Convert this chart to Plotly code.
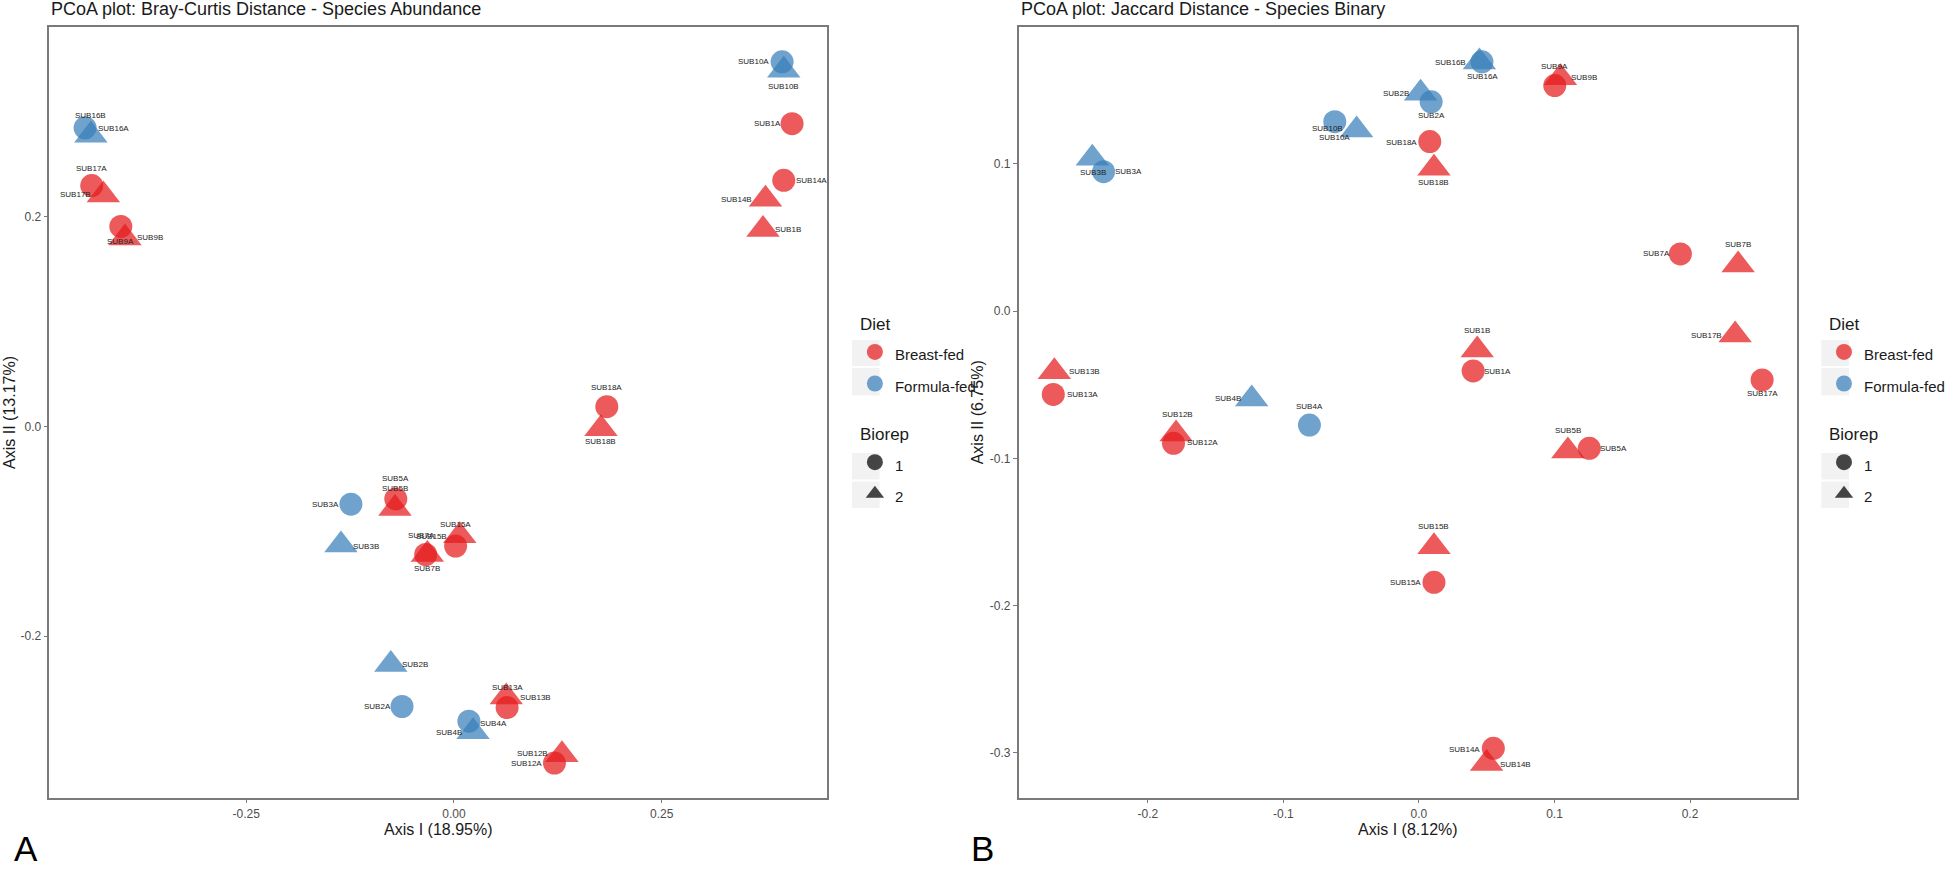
import plotly.graph_objects as go

# ---------------- data ----------------
subjects = ["SUB1", "SUB2", "SUB3", "SUB4", "SUB5", "SUB7", "SUB9", "SUB10",
            "SUB12", "SUB13", "SUB14", "SUB15", "SUB16", "SUB17", "SUB18"]
diet = ["Breast-fed", "Formula-fed", "Formula-fed", "Formula-fed", "Breast-fed",
        "Breast-fed", "Breast-fed", "Formula-fed", "Breast-fed", "Breast-fed",
        "Breast-fed", "Breast-fed", "Formula-fed", "Breast-fed", "Breast-fed"]

# Bray-Curtis PCoA (panel A): biorep 1 (sample "A") and biorep 2 (sample "B")
bc_x_rep1 = [0.407, -0.0625, -0.124, 0.018, -0.070, -0.034, -0.401, 0.395,
             0.121, 0.064, 0.397, 0.002, -0.444, -0.436, 0.184]
bc_y_rep1 = [0.289, -0.267, -0.074, -0.281, -0.069, -0.122, 0.191, 0.348,
             -0.321, -0.268, 0.235, -0.114, 0.285, 0.230, 0.019]
bc_x_rep2 = [0.372, -0.076, -0.136, 0.023, -0.071, -0.032, -0.396, 0.397,
             0.130, 0.063, 0.375, 0.007, -0.437, -0.422, 0.177]
bc_y_rep2 = [0.188, -0.227, -0.113, -0.291, -0.078, -0.122, 0.180, 0.340,
             -0.313, -0.258, 0.217, -0.104, 0.278, 0.221, -0.002]

# Jaccard PCoA (panel B)
jc_x_rep1 = [0.040, 0.009, -0.2327, -0.0808, 0.1257, 0.1929, 0.1002, -0.0621,
             -0.1811, -0.2698, 0.0549, 0.0111, 0.0465, 0.2532, 0.008]
jc_y_rep1 = [-0.0407, 0.142, 0.0946, -0.0774, -0.0932, 0.0387, 0.153, 0.1285,
             -0.0898, -0.0566, -0.2969, -0.1842, 0.1692, -0.0468, 0.115]
jc_x_rep2 = [0.043, 0.0012, -0.241, -0.1234, 0.1099, 0.2355, 0.1044, -0.046,
             -0.1792, -0.269, 0.0499, 0.0111, 0.0446, 0.2333, 0.0111]
jc_y_rep2 = [-0.0265, 0.1478, 0.1037, -0.0597, -0.095, 0.0312, 0.1584, 0.1229,
             -0.0835, -0.0412, -0.3071, -0.160, 0.169, -0.0163, 0.0969]

bc_xticks = [-0.25, 0.0, 0.25]
bc_xticktext = ["-0.25", "0.00", "0.25"]
bc_yticks = [-0.2, 0.0, 0.2]
bc_yticktext = ["-0.2", "0.0", "0.2"]
jc_xticks = [-0.2, -0.1, 0.0, 0.1, 0.2]
jc_xticktext = ["-0.2", "-0.1", "0.0", "0.1", "0.2"]
jc_yticks = [-0.3, -0.2, -0.1, 0.0, 0.1]
jc_yticktext = ["-0.3", "-0.2", "-0.1", "0.0", "0.1"]

# ---------------- styling ----------------
FONT = "Liberation Sans, Arial, Helvetica, sans-serif"
diet_colors = {"Breast-fed": "#E41A1C", "Formula-fed": "#377EB8"}
rep_symbols = {1: "circle", 2: "triangle-up"}
rep_sizes = {1: 23, 2: 29}
ALPHA = 0.72
AXIS_COLOR = "#7a7a7a"

# label placement (pixel offsets of repelled labels from their points: dx, dy-down)
offs_A = {
    "SUB1A": (-25, 0), "SUB1B": (25, 0), "SUB2A": (-25, 0), "SUB2B": (24, 0),
    "SUB3A": (-25, 0), "SUB3B": (25, 1), "SUB4A": (25, 2), "SUB4B": (-24, 1),
    "SUB5A": (0, -20), "SUB5B": (0, -20), "SUB7A": (-4, -19), "SUB7B": (0, 14),
    "SUB9A": (0, 15), "SUB9B": (25, 0), "SUB10A": (-29, 0), "SUB10B": (0, 16),
    "SUB12A": (-28, 0), "SUB12B": (-29, -1), "SUB13A": (0, -20), "SUB13B": (29, 0),
    "SUB14A": (28, 0), "SUB14B": (-29, 0), "SUB15A": (0, -22), "SUB15B": (-28, 1),
    "SUB16A": (28, 1), "SUB16B": (0, -20), "SUB17A": (0, -17), "SUB17B": (-28, 0),
    "SUB18A": (0, -19), "SUB18B": (0, 13),
}
offs_B = {
    "SUB1A": (24, 1), "SUB1B": (0, -20), "SUB2A": (0, 14), "SUB2B": (-25, 0),
    "SUB3A": (25, 0), "SUB3B": (1, 14), "SUB4A": (0, -19), "SUB4B": (-24, 0),
    "SUB5A": (24, 0), "SUB5B": (0, -20), "SUB7A": (-24, 0), "SUB7B": (0, -21),
    "SUB9A": (0, -19), "SUB9B": (24, 0), "SUB10A": (0, 16), "SUB10B": (-29, -1),
    "SUB12A": (29, -1), "SUB12B": (1, -20), "SUB13A": (29, 0), "SUB13B": (30, 0),
    "SUB14A": (-29, 1), "SUB14B": (29, 1), "SUB15A": (-28, 0), "SUB15B": (0, -20),
    "SUB16A": (1, 15), "SUB16B": (-29, 0), "SUB17A": (0, 14), "SUB17B": (-29, 0),
    "SUB18A": (-28, 1), "SUB18B": (0, 14),
}

W, H = 1950, 870
def px_x(p): return p / W
def px_y(p): return 1 - p / H

domA_x = [px_x(50), px_x(837.7)]
domB_x = [px_x(1031.8), px_x(1820.7)]
dom_y = [px_y(797.7), px_y(26.7)]

fig = go.Figure()
annotations = []
shapes = []

def add_panel(xs1, ys1, xs2, ys2, xref, yref, offs):
    xs, ys, cols, syms, sizes, labels = [], [], [], [], [], []
    for i, s in enumerate(subjects):
        for rep, xv, yv in ((1, xs1[i], ys1[i]), (2, xs2[i], ys2[i])):
            xs.append(xv); ys.append(yv)
            cols.append(diet_colors[diet[i]])
            syms.append(rep_symbols[rep])
            sizes.append(rep_sizes[rep])
            labels.append(s + ("A" if rep == 1 else "B"))
    fig.add_trace(go.Scatter(
        x=xs, y=ys, mode="markers", xaxis=xref, yaxis=yref, showlegend=False,
        text=labels, hoverinfo="text",
        marker=dict(color=cols, symbol=syms, size=sizes, opacity=ALPHA,
                    line=dict(width=0)),
    ))
    for xv, yv, lab in zip(xs, ys, labels):
        dx, dy = offs.get(lab, (0, -18))
        annotations.append(dict(
            x=xv, y=yv, xref=xref, yref=yref, text=lab, showarrow=False,
            xshift=dx, yshift=-dy, borderpad=0,
            font=dict(family=FONT, size=8, color="#222222"),
        ))

add_panel(bc_x_rep1, bc_y_rep1, bc_x_rep2, bc_y_rep2, "x", "y", offs_A)
add_panel(jc_x_rep1, jc_y_rep1, jc_x_rep2, jc_y_rep2, "x2", "y2", offs_B)

# legend entries (one legend per panel); large legend font sets row spacing,
# the visible label text is sized with a span
def lab(t):
    return '<span style="font-size:15px">' + t + '</span>'

gt_font = dict(size=17, family=FONT, color="#1a1a1a")
for leg in ("legend", "legend2"):
    for d in ("Breast-fed", "Formula-fed"):
        fig.add_trace(go.Scatter(
            x=[None], y=[None], mode="markers", name=lab(d), legend=leg,
            legendgroup="diet", legendgrouptitle=dict(text="Diet", font=gt_font),
            marker=dict(color=diet_colors[d], symbol="circle", size=23, opacity=ALPHA, line=dict(width=0)),
        ))
    for rep in (1, 2):
        fig.add_trace(go.Scatter(
            x=[None], y=[None], mode="markers", name=lab(str(rep)), legend=leg,
            legendgroup="biorep", legendgrouptitle=dict(text="Biorep", font=gt_font),
            marker=dict(color="#000000", symbol=rep_symbols[rep], size=rep_sizes[rep], opacity=ALPHA, line=dict(width=0)),
        ))

# grey legend key backgrounds
for kx0 in (863, 1845):
    for ky0, ky1 in ((340, 366), (368, 395.5), (453, 479.5), (481.5, 508)):
        shapes.append(dict(type="rect", xref="paper", yref="paper",
                           x0=px_x(kx0), x1=px_x(kx0 + 28), y0=px_y(ky1), y1=px_y(ky0),
                           fillcolor="#f2f2f2", line=dict(width=0), layer="below"))

def axis_common(rng, tickvals, ticktext, domain, anchor):
    return dict(
        range=rng, domain=domain, anchor=anchor, tickvals=tickvals, ticktext=ticktext,
        showgrid=False, zeroline=False, showline=True, mirror=True,
        linecolor=AXIS_COLOR, linewidth=1.5, ticks="outside", ticklen=4,
        tickwidth=1.3, tickcolor=AXIS_COLOR,
        tickfont=dict(family=FONT, size=12, color="#4d4d4d"),
    )

def txt(x, y, text, size, xanchor="center", yanchor="middle", angle=0, color="#1a1a1a"):
    annotations.append(dict(x=x, y=y, xref="paper", yref="paper", text=text, showarrow=False,
                            xanchor=xanchor, yanchor=yanchor, textangle=angle,
                            font=dict(family=FONT, size=size, color=color)))

txt(px_x(50), px_y(9), "PCoA plot: Bray-Curtis Distance - Species Abundance", 18, "left", "middle")
txt(px_x(1031.8), px_y(9), "PCoA plot: Jaccard Distance - Species Binary", 18, "left", "middle")
txt(px_x(443.9), px_y(829), "Axis I (18.95%)", 16)
txt(px_x(1426), px_y(829), "Axis I (8.12%)", 16)
txt(px_x(9), px_y(412), "Axis II (13.17%)", 16, angle=-90)
txt(px_x(990), px_y(412), "Axis II (6.75%)", 16, angle=-90)
txt(px_x(12), px_y(870), "A", 35, "left", "bottom", color="#000000")
txt(px_x(982), px_y(870), "B", 35, "left", "bottom", color="#000000")

legend_style = dict(
    font=dict(family=FONT, size=22, color="#1a1a1a"), bgcolor="rgba(0,0,0,0)",
    itemsizing="trace", tracegroupgap=22, yanchor="top", xanchor="left",
)

fig.update_layout(
    width=W, height=H, margin=dict(l=0, r=0, t=0, b=0),
    paper_bgcolor="white", plot_bgcolor="white",
    font=dict(family=FONT),
    xaxis=axis_common([-0.487, 0.449], bc_xticks, bc_xticktext, domA_x, "y"),
    yaxis=axis_common([-0.354, 0.3815], bc_yticks, bc_yticktext, dom_y, "x"),
    xaxis2=axis_common([-0.2954, 0.2792], jc_xticks, jc_xticktext, domB_x, "y2"),
    yaxis2=axis_common([-0.3304, 0.193], jc_yticks, jc_yticktext, dom_y, "x2"),
    legend=dict(x=px_x(866), y=px_y(306), **legend_style),
    legend2=dict(x=px_x(1848), y=px_y(306), **legend_style),
    annotations=annotations,
    shapes=shapes,
)

# remove the browser's default page margin so the figure sits at the window origin
fig.write_html("out.html", config={"displayModeBar": False},
               post_script="document.body.style.margin='0px';")
